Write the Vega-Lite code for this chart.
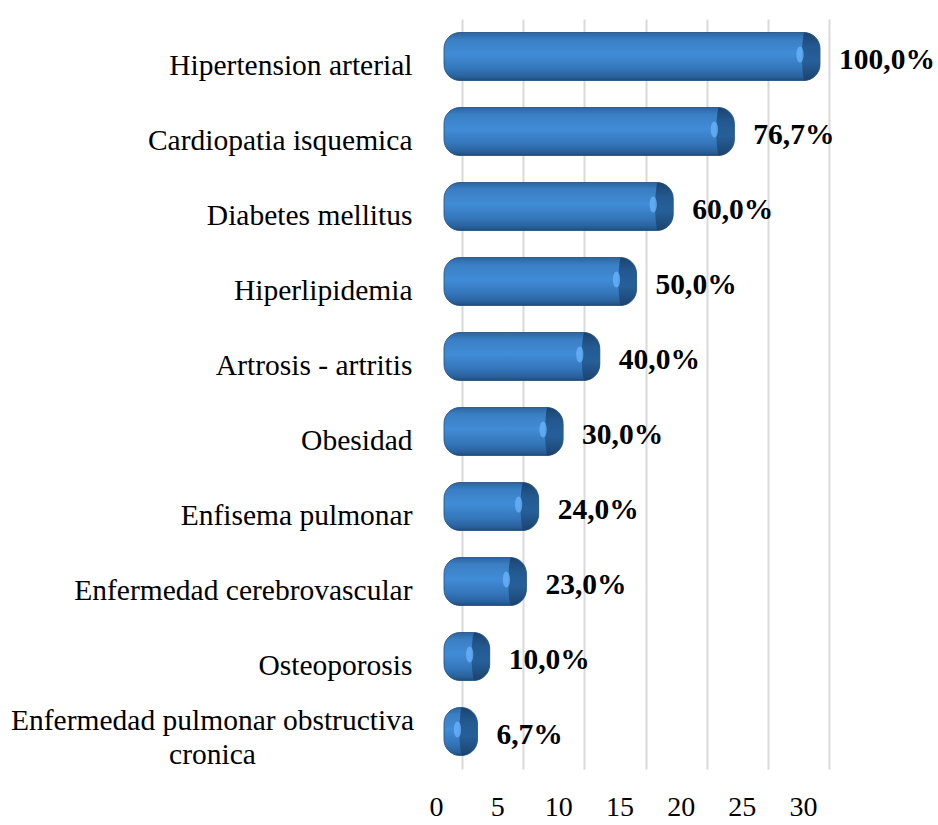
{
  "$schema": "https://vega.github.io/schema/vega-lite/v6.json",
  "width": 367,
  "height": 750,
  "autosize": {"type": "none"},
  "padding": {"left": 449, "top": 19, "right": 122, "bottom": 56},
  "background": "white",
  "config": {"view": {"stroke": null}, "font": "Liberation Serif"},
  "data": {
    "values": [
      {"cat": "Hipertension arterial", "n": 30, "pct": "100,0%"},
      {"cat": "Cardiopatia isquemica", "n": 23, "pct": "76,7%"},
      {"cat": "Diabetes mellitus", "n": 18, "pct": "60,0%"},
      {"cat": "Hiperlipidemia", "n": 15, "pct": "50,0%"},
      {"cat": "Artrosis - artritis", "n": 12, "pct": "40,0%"},
      {"cat": "Obesidad", "n": 9, "pct": "30,0%"},
      {"cat": "Enfisema pulmonar\u00a0", "n": 7, "pct": "24,0%"},
      {"cat": "Enfermedad cerebrovascular", "n": 6, "pct": "23,0%"},
      {"cat": "Osteoporosis", "n": 3, "pct": "10,0%"},
      {"cat": "Enfermedad pulmonar obstructiva cronica", "n": 2, "pct": "6,7%"}
    ]
  },
  "encoding": {
    "y": {
      "field": "cat",
      "type": "nominal",
      "sort": null,
      "scale": {"paddingInner": 0.36, "paddingOuter": 0.18},
      "axis": {
        "title": null,
        "domain": false,
        "ticks": false,
        "labelFontSize": 29.5,
        "labelColor": "black",
        "labelLimit": 0,
        "labelLineHeight": 34,
        "labelExpr": "datum.value == 'Enfermedad pulmonar obstructiva cronica' ? ['Enfermedad pulmonar obstructiva','cronica'] : datum.label",
        "labelAlign": {"condition": {"test": "datum.value == 'Enfermedad pulmonar obstructiva cronica'", "value": "center"}, "value": "right"},
        "labelPadding": {"condition": {"test": "datum.value == 'Enfermedad pulmonar obstructiva cronica'", "value": 237}, "value": 37},
        "labelOffset": {"condition": {"test": "datum.value == 'Enfermedad pulmonar obstructiva cronica'", "value": -11}, "value": 9}
      }
    }
  },
  "layer": [
    {
      "mark": {
        "type": "bar",
        "cornerRadius": 16,
        "xOffset": 4,
        "x2Offset": -5,
        "stroke": "#1d4a78",
        "strokeWidth": 0.8,
        "color": {
          "gradient": "linear", "x1": 0, "y1": 0, "x2": 0, "y2": 1,
          "stops": [
            {"offset": 0, "color": "#2c64a0"},
            {"offset": 0.15, "color": "#3a7fc4"},
            {"offset": 0.45, "color": "#418cd7"},
            {"offset": 0.75, "color": "#3476ba"},
            {"offset": 0.92, "color": "#2a619c"},
            {"offset": 1, "color": "#1e4c7c"}
          ]
        }
      },
      "encoding": {
        "x": {
          "field": "n",
          "type": "quantitative",
          "stack": null,
          "scale": {"domain": [0, 30], "nice": false},
          "axis": {
            "title": null,
            "domain": false,
            "ticks": false,
            "values": [0, 5, 10, 15, 20, 25, 30],
            "grid": true,
            "gridColor": "#d9d9d9",
            "gridWidth": 2,
            "tickOffset": 13,
            "labelOffset": -26,
            "labelFlush": false,
            "labelFontSize": 28,
            "labelPadding": 24,
            "labelColor": "black"
          }
        },
        "x2": {"datum": 0}
      }
    },
    {
      "mark": {
        "type": "point",
        "filled": true,
        "xOffset": 4,
        "size": 2304,
        "shape": "M-0.667,-1C-0.298,-1 0,-0.632 0,-0.333L0,0.333C0,0.632 -0.298,1 -0.667,1C-0.78,0.5 -0.78,-0.5 -0.667,-1Z",
        "opacity": 0.95,
        "color": {
          "gradient": "linear", "x1": 0, "y1": 0, "x2": 0, "y2": 1,
          "stops": [
            {"offset": 0, "color": "#1a426c"},
            {"offset": 0.3, "color": "#22578e"},
            {"offset": 0.6, "color": "#255d96"},
            {"offset": 1, "color": "#1a426c"}
          ]
        }
      },
      "encoding": {
        "x": {"field": "n", "type": "quantitative"}
      }
    },
    {
      "mark": {
        "type": "point",
        "filled": true,
        "xOffset": -16,
        "yOffset": -2,
        "size": 256,
        "shape": "M0,-1C0.6,-1 0.6,1 0,1C-0.6,1 -0.6,-1 0,-1Z",
        "color": "#6db8ff",
        "opacity": 0.7
      },
      "encoding": {
        "x": {"field": "n", "type": "quantitative"}
      }
    },
    {
      "mark": {
        "type": "text",
        "align": "left",
        "baseline": "middle",
        "dx": 23,
        "dy": 3,
        "font": "Liberation Serif",
        "fontSize": 29.5,
        "fontWeight": "bold",
        "color": "black"
      },
      "encoding": {
        "x": {"field": "n", "type": "quantitative"},
        "text": {"field": "pct"}
      }
    }
  ]
}
